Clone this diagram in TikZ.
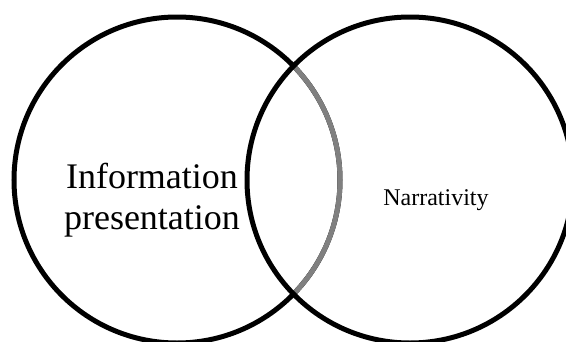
\documentclass[tikz,border=0pt]{standalone}
\usepackage{fontspec}
\setmainfont{Liberation Serif}
\definecolor{midgrey}{HTML}{808080}
\tikzset{
  ring/.style={draw=black, line width=5pt},
  innerarc/.style={draw=midgrey, line width=5pt},
  biglabel/.style={font=\fontsize{36}{40}\selectfont, align=center, inner sep=0pt},
  smalllabel/.style={font=\fontsize{24}{28}\selectfont, inner sep=0pt}
}
\begin{document}
\begin{tikzpicture}[x=1pt, y=-1pt]
  \useasboundingbox (0,0) rectangle (566,341);
  \clip (0,0) rectangle (566,341);
  \fill[white] (0,0) rectangle (566,341);

  % centres of the two sets
  \coordinate (cl) at (177,180);
  \coordinate (cr) at (410,180);

  % left set
  \draw[ring] (cl) circle[radius=163];
  % part of the left boundary that lies inside the right set
  \begin{scope}
    \clip (cr) circle[radius=163];
    \draw[innerarc] (cl) circle[radius=163];
  \end{scope}
  % right set
  \draw[ring] (cr) circle[radius=163];

  % labels
  \node[biglabel, anchor=base] (info) at (152,188.5) {Information};
  \node[biglabel, anchor=base] (pres) at (152,229) {presentation};
  \node[smalllabel, anchor=base] (narr) at (436,205) {Narrativity};
\end{tikzpicture}
\end{document}
